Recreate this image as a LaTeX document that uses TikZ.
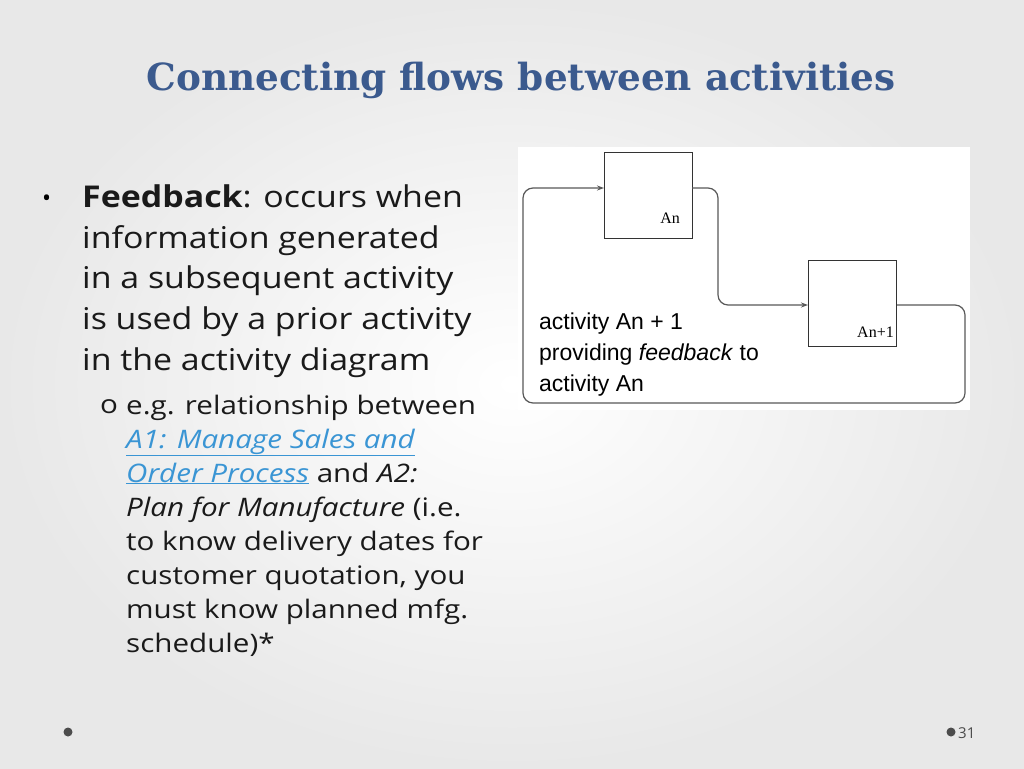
\documentclass[tikz,border=0pt]{standalone}
\usepackage{fontspec}
\setmainfont{Open Sans}
\newfontfamily\widefont[FakeStretch=1.13]{Open Sans}
\newfontfamily\subfont[FakeStretch=1.16]{Open Sans}
\newfontfamily\titlefont{DejaVu Serif}
\newfontfamily\arialfont{Liberation Sans}
\newfontfamily\boxfont{Liberation Serif}
\usetikzlibrary{arrows.meta}
\definecolor{titleblue}{HTML}{3B5A8E}
\definecolor{linkblue}{HTML}{3A95D4}
\definecolor{bodytxt}{HTML}{1A1A1A}
\begin{document}
\begin{tikzpicture}[x=1pt,y=-1pt,
  line/.style={anchor=base west,inner sep=0pt,font=\widefont\fontsize{30}{36}\selectfont,text=bodytxt},
  sub/.style={anchor=base west,inner sep=0pt,font=\subfont\fontsize{25.5}{30}\selectfont,text=bodytxt},
  lab/.style={anchor=base west,inner sep=0pt,font=\arialfont\fontsize{23}{31}\selectfont},
  actbox/.style={draw=black!80,line width=1pt,fill=white,minimum width=88pt,minimum height=86pt,inner sep=0pt},
  flow/.style={draw=black!65,line width=1.2pt,rounded corners=10pt},
  tip/.style={-{Stealth[length=7pt,width=5pt]}}]
\useasboundingbox (0,0) rectangle (1024,768);
\shade[inner color=white,outer color=gray!18] (0,0) rectangle (1024,768);
\node[font=\titlefont\bfseries\fontsize{37}{44}\selectfont,text=titleblue,scale=1.01] (title) at (521,80) {Connecting flows between activities};
% left text
\node[anchor=base west,inner sep=0pt,font=\fontsize{24}{30}\selectfont] (b1) at (42,206) {•};
\node[line] (l1) at (82,207) {\textbf{Feedback}: occurs when};
\node[line] (l2) at (82,248) {information generated};
\node[line] (l3) at (82,288) {in a subsequent activity};
\node[line] (l4) at (82,329) {is used by a prior activity};
\node[line] (l5) at (82,370) {in the activity diagram};
\node[sub] (o1) at (100,413) {o};
\node[sub] (s1) at (126,414) {e.g. relationship between};
\node[sub,text=linkblue] (s2) at (126,448) {\underline{\itshape A1: Manage Sales and}};
\node[sub] (s3) at (126,482) {{\color{linkblue}\underline{\itshape Order Process}} and \textit{A2:}};
\node[sub] (s4) at (126,516) {\textit{Plan for Manufacture} (i.e.};
\node[sub] (s5) at (126,550) {to know delivery dates for};
\node[sub] (s6) at (126,584) {customer quotation, you};
\node[sub] (s7) at (126,618) {must know planned mfg.};
\node[sub] (s8) at (126,652) {schedule)*};
% diagram panel
\fill[white] (518,147) rectangle (970,410);
\node[actbox] (an) at (648,195) {};
\node[anchor=base east,inner sep=0pt,font=\boxfont\fontsize{16}{18}\selectfont] (anl) at (680,223) {An};
\node[actbox] (an1) at (852.5,303) {};
\node[anchor=base east,inner sep=0pt,font=\boxfont\fontsize{16}{18}\selectfont] (an1l) at (894,337) {An+1};
\coordinate (a1) at (692,188);
\coordinate (b1e) at (808,305);
\coordinate (c1) at (897,305);
\coordinate (d1) at (604,188);
\draw[flow,tip] (a1) -- (718,188) -- (718,305) -- (b1e);
\draw[flow,tip] (c1) -- (965,305) -- (965,403) -- (523,403) -- (523,188) -- (d1);
\node[lab] (lab1) at (539,329) {activity An + 1};
\node[lab] (lab2) at (539,360) {providing \textit{feedback} to};
\node[lab] (lab3) at (539,391) {activity An};
% footer
\fill[gray!60!black] (68,732) circle (4.5pt);
\fill[gray!60!black] (951,732) circle (4.5pt);
\node[anchor=west,inner sep=0pt,font=\fontsize{15}{18}\selectfont,text=gray!60!black] (pg) at (958,733) {31};
\end{tikzpicture}
\end{document}
